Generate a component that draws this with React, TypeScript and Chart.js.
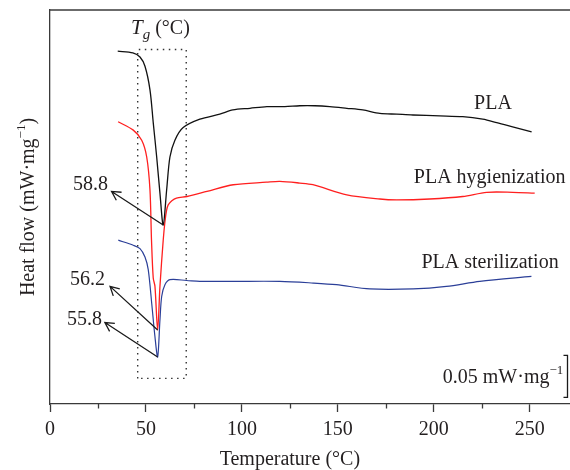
import React, { useEffect, useRef } from 'react';
import { Chart, registerables } from 'chart.js';

Chart.register(...registerables);

// ---- data (temperature in °C, heat flow in mW·mg⁻¹, curves offset) ----
const plaT = [35.3, 43.2, 46.9, 49.5, 52.1, 53.8, 55.6, 57.3, 59.0, 60.8, 62.5, 65.1, 69.4, 78.1, 88.5, 95.3, 104.2, 113.0, 122.4, 130.2, 138.0, 145.8, 154.7, 163.0, 171.9, 180.7, 189.1, 203.1, 215.1, 225.5, 232.8, 241.1, 251.0];
const plaHF = [0.420, 0.418, 0.413, 0.402, 0.374, 0.335, 0.294, 0.251, 0.213, 0.255, 0.294, 0.314, 0.329, 0.339, 0.345, 0.350, 0.352, 0.354, 0.354, 0.355, 0.355, 0.354, 0.352, 0.350, 0.346, 0.345, 0.344, 0.343, 0.342, 0.339, 0.335, 0.330, 0.324];

const hygT = [35.5, 43.4, 47.8, 50.4, 52.1, 52.9, 53.8, 54.7, 56.1, 57.3, 59.0, 59.9, 60.8, 61.6, 63.5, 65.9, 71.4, 81.8, 95.5, 112.8, 119.8, 130.2, 137.0, 154.7, 171.9, 180.7, 197.9, 215.1, 227.6, 241.1, 252.6];
const hygHF = [0.336, 0.326, 0.314, 0.294, 0.255, 0.195, 0.150, 0.140, 0.088, 0.140, 0.195, 0.217, 0.231, 0.237, 0.242, 0.245, 0.247, 0.253, 0.261, 0.264, 0.265, 0.263, 0.261, 0.249, 0.244, 0.243, 0.244, 0.247, 0.252, 0.252, 0.251];

const sterT = [35.6, 43.4, 46.9, 49.5, 51.2, 53.0, 54.7, 56.1, 57.3, 58.2, 59.9, 62.5, 71.2, 78.1, 95.3, 119.8, 137.2, 149.3, 166.7, 189.2, 206.6, 224.0, 250.9];
const sterHF = [0.195, 0.189, 0.185, 0.175, 0.160, 0.120, 0.080, 0.056, 0.100, 0.128, 0.142, 0.148, 0.147, 0.146, 0.146, 0.146, 0.144, 0.142, 0.137, 0.137, 0.140, 0.146, 0.152];

const seriesNames = ['PLA', 'PLA hygienization', 'PLA sterilization'];
const peakLabels = ['58.8', '56.2', '55.8'];
const tgBoxT = [45.7, 71.0];
const tgBoxHF = [0.0305, 0.422];
const xTickLabels = [0, 50, 100, 150, 200, 250];
const scaleBarValue = 0.05;

// ---- styles / layout ----
const FONT = "'Liberation Serif', 'Times New Roman', serif";
const TEXT = '#231f20';
const AXIS = '#3a3a3a';
const COLORS = ['#111111', '#ff1f1f', '#2b3f98'];

// annotation placement (data units)
const nameAnchors = [
  { x: 221.0, y: 0.351 },
  { x: 189.6, y: 0.2635 },
  { x: 193.6, y: 0.1615 },
];
const arrowHeads = [
  { x: 32.1, y: 0.253 },
  { x: 31.3, y: 0.140 },
  { x: 28.6, y: 0.097 },
];
const peakAnchors = [
  { x: 30.2, y: 0.2548 },
  { x: 28.65, y: 0.1417 },
  { x: 27.1, y: 0.094 },
];
const tgAnchor = { x: 42.2, y: 0.441 };
const scaleTextAnchor = { x: 204.7, y: 0.025 };
const scaleBarX = 269.6;
const scaleBarBottom = 0.008;

type Part = { text: string; size: number; italic?: boolean; dy?: number };

function drawParts(ctx: CanvasRenderingContext2D, parts: Part[], x: number, y: number, align: 'left' | 'right' | 'center') {
  let total = 0;
  const widths = parts.map((p) => {
    ctx.font = `${p.italic ? 'italic ' : ''}${p.size}px ${FONT}`;
    const w = ctx.measureText(p.text).width;
    total += w;
    return w;
  });
  let cx = align === 'left' ? x : align === 'right' ? x - total : x - total / 2;
  ctx.textAlign = 'left';
  ctx.textBaseline = 'alphabetic';
  parts.forEach((p, i) => {
    ctx.font = `${p.italic ? 'italic ' : ''}${p.size}px ${FONT}`;
    ctx.fillText(p.text, cx, y + (p.dy || 0));
    cx += widths[i];
  });
}

const annotPlugin = {
  id: 'annot',
  afterDatasetsDraw(chart: any) {
    const { ctx, chartArea, scales } = chart;
    const x = scales.x;
    const y = scales.y;
    ctx.save();
    // top frame line
    ctx.strokeStyle = AXIS;
    ctx.lineWidth = 1.3;
    ctx.beginPath();
    ctx.moveTo(chartArea.left, chartArea.top);
    ctx.lineTo(chartArea.right, chartArea.top);
    ctx.stroke();
    // minor ticks
    for (let v = 25; v <= x.max; v += 50) {
      const px = Math.round(x.getPixelForValue(v)) + 0.5;
      ctx.beginPath();
      ctx.moveTo(px, chartArea.bottom);
      ctx.lineTo(px, chartArea.bottom + 4.5);
      ctx.stroke();
    }

    ctx.fillStyle = TEXT;
    // series names
    seriesNames.forEach((name, i) => {
      drawParts(ctx, [{ text: name, size: 20 }], x.getPixelForValue(nameAnchors[i].x), y.getPixelForValue(nameAnchors[i].y), 'left');
    });

    // arrows from each curve minimum
    const series = [
      [plaT, plaHF],
      [hygT, hygHF],
      [sterT, sterHF],
    ];
    ctx.strokeStyle = '#1a1a1a';
    ctx.lineWidth = 1.3;
    series.forEach(([ts, hs], i) => {
      let mi = 0;
      hs.forEach((v, k) => { if (v < hs[mi]) mi = k; });
      const x0 = x.getPixelForValue(ts[mi]);
      const y0 = y.getPixelForValue(hs[mi]);
      const x1 = x.getPixelForValue(arrowHeads[i].x);
      const y1 = y.getPixelForValue(arrowHeads[i].y);
      ctx.beginPath();
      ctx.moveTo(x0, y0);
      ctx.lineTo(x1, y1);
      const ang = Math.atan2(y0 - y1, x0 - x1);
      const L = 10;
      const a = 0.5;
      ctx.moveTo(x1 + L * Math.cos(ang + a), y1 + L * Math.sin(ang + a));
      ctx.lineTo(x1, y1);
      ctx.lineTo(x1 + L * Math.cos(ang - a), y1 + L * Math.sin(ang - a));
      ctx.stroke();
      drawParts(ctx, [{ text: peakLabels[i], size: 20 }], x.getPixelForValue(peakAnchors[i].x), y.getPixelForValue(peakAnchors[i].y), 'right');
    });

    // Tg label
    drawParts(
      ctx,
      [
        { text: 'T', size: 21, italic: true },
        { text: 'g', size: 15, italic: true, dy: 5 },
        { text: ' (°C)', size: 20 },
      ],
      x.getPixelForValue(tgAnchor.x),
      y.getPixelForValue(tgAnchor.y),
      'left'
    );

    // scale bar
    const bx = Math.round(x.getPixelForValue(scaleBarX)) + 0.5;
    const bb = y.getPixelForValue(scaleBarBottom);
    const bt = y.getPixelForValue(scaleBarBottom + scaleBarValue);
    ctx.beginPath();
    ctx.moveTo(bx - 4, bt);
    ctx.lineTo(bx, bt);
    ctx.lineTo(bx, bb);
    ctx.lineTo(bx - 4, bb);
    ctx.stroke();
    drawParts(
      ctx,
      [
        { text: `${scaleBarValue.toFixed(2)} mW·mg`, size: 20 },
        { text: '−1', size: 13, dy: -9 },
      ],
      x.getPixelForValue(scaleTextAnchor.x),
      y.getPixelForValue(scaleTextAnchor.y),
      'left'
    );

    // x axis title (centred over the 0–250 range)
    drawParts(ctx, [{ text: 'Temperature (°C)', size: 20 }], x.getPixelForValue(125), 465, 'center');

    // y axis title
    ctx.save();
    ctx.translate(27 + 7, (chartArea.top + chartArea.bottom) / 2);
    ctx.rotate(-Math.PI / 2);
    drawParts(
      ctx,
      [
        { text: 'Heat flow (mW·mg', size: 20 },
        { text: '−1', size: 13, dy: -9 },
        { text: ')', size: 20 },
      ],
      0,
      0,
      'center'
    );
    ctx.restore();

    ctx.restore();
  },
};

export default function App() {
  const ref = useRef<HTMLCanvasElement>(null);
  useEffect(() => {
    document.body.style.margin = '0';
    const mk = (ts: number[], hs: number[]) => ts.map((t, i) => ({ x: t, y: hs[i] }));
    const box = [
      { x: tgBoxT[0], y: tgBoxHF[0] },
      { x: tgBoxT[0], y: tgBoxHF[1] },
      { x: tgBoxT[1], y: tgBoxHF[1] },
      { x: tgBoxT[1], y: tgBoxHF[0] },
      { x: tgBoxT[0], y: tgBoxHF[0] },
    ];
    const chart = new Chart(ref.current!, {
      type: 'line',
      data: {
        datasets: [
          { label: 'Tg box', data: box, borderColor: '#333', borderWidth: 1.4, borderDash: [1.5, 4.5], pointRadius: 0, tension: 0 },
          { label: seriesNames[0], data: mk(plaT, plaHF), borderColor: COLORS[0], borderWidth: 1.3, pointRadius: 0, tension: 0.3 },
          { label: seriesNames[1], data: mk(hygT, hygHF), borderColor: COLORS[1], borderWidth: 1.3, pointRadius: 0, tension: 0.3 },
          { label: seriesNames[2], data: mk(sterT, sterHF), borderColor: COLORS[2], borderWidth: 1.2, pointRadius: 0, tension: 0.3 },
        ],
      },
      options: {
        animation: false,
        responsive: false,
        devicePixelRatio: 1,
        layout: { padding: { top: 10, right: 0, left: 0, bottom: 0 } },
        plugins: { legend: { display: false }, tooltip: { enabled: false } },
        scales: {
          x: {
            type: 'linear',
            min: 0,
            max: 271,
            afterFit: (s: any) => { s.height = 66; },
            afterBuildTicks: (s: any) => {
              s.ticks = xTickLabels.map((v) => ({ value: v }));
            },
            ticks: {
              autoSkip: false,
              maxRotation: 0,
              padding: 6,
              color: TEXT,
              font: { family: FONT, size: 20 },
              callback: (v: any) => String(v),
            },
            grid: { display: true, drawOnChartArea: false, drawTicks: true, tickLength: 8, tickColor: AXIS, tickWidth: 1.3 },
            border: { display: true, color: AXIS, width: 1.3 },
          },
          y: {
            type: 'linear',
            min: 0,
            max: 0.469,
            afterFit: (s: any) => { s.width = 50; },
            ticks: { display: false },
            grid: { display: false },
            border: { display: true, color: AXIS, width: 1.3 },
          },
        },
      },
      plugins: [annotPlugin],
    } as any);
    return () => chart.destroy();
  }, []);
  return (
    <div style={{ width: 570, height: 470 }}>
      <canvas ref={ref} width={570} height={470} style={{ display: 'block' }} />
    </div>
  );
}
